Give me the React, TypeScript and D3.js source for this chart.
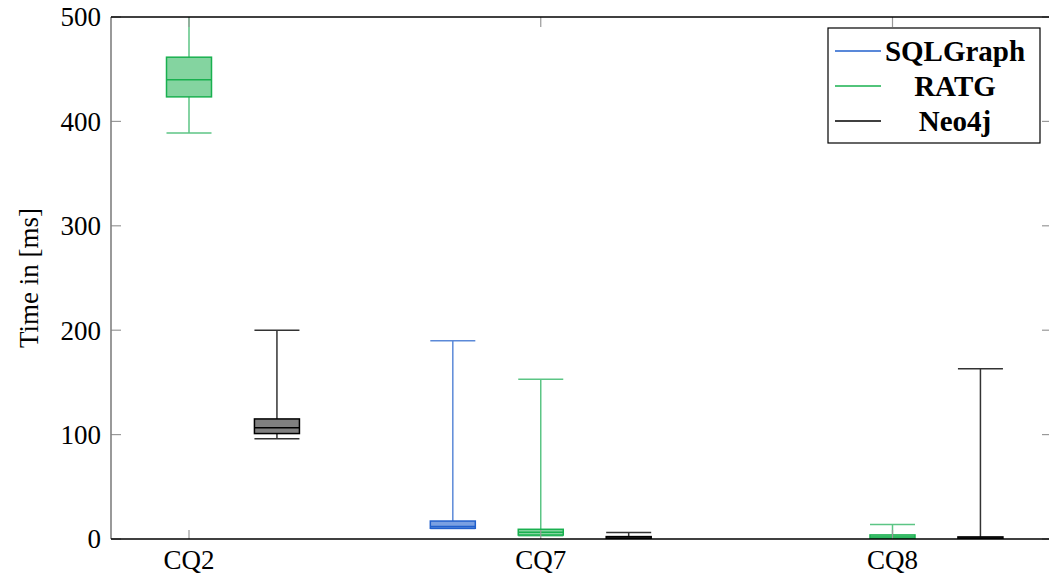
import React from "react";
import * as d3 from "d3";

// Query categories and systems
const categories = ["CQ2", "CQ7", "CQ8"];
const systems = ["SQLGraph", "RATG", "Neo4j"];

// Box statistics per system, one entry per category (null = no measurement)
type Stat = { min: number; q1: number; median: number; q3: number; max: number } | null;
const sqlGraphStats: Stat[] = [
  null,
  { min: 10, q1: 10.3, median: 12, q3: 17.2, max: 190 },
  null,
];
const ratgStats: Stat[] = [
  { min: 389, q1: 423.5, median: 440, q3: 461.5, max: 530 },
  { min: 3, q1: 3.8, median: 6.4, q3: 9.3, max: 153 },
  { min: 0.5, q1: 0.4, median: 2, q3: 3.9, max: 14 },
];
const neo4jStats: Stat[] = [
  { min: 96, q1: 101, median: 106.6, q3: 115, max: 200 },
  { min: 0.3, q1: 0.2, median: 1, q3: 2.3, max: 6.3 },
  { min: 0.2, q1: 0.2, median: 1, q3: 2, max: 163 },
];
const yTicks = [0, 100, 200, 300, 400, 500];

const palette = [
  { stroke: "#2260cc", fill: "#7aa0e2", whisker: "#5b89d8" },
  { stroke: "#19b04f", fill: "#84d4a0", whisker: "#5cc585" },
  { stroke: "#000000", fill: "#808080", whisker: "#333333" },
];

const W = 1049;
const H = 575;
const left = 111;
const right = 1052;
const top = 17;
const bottom = 539;

export default function App() {
  const y = d3.scaleLinear().domain([0, 500]).range([bottom, top]);
  // category index -> pixel centre
  const x = d3.scaleLinear().domain([0, 2]).range([189, 892.5]);
  const offsets = [-0.25, 0, 0.25];
  const boxW = 45;
  const allStats = [sqlGraphStats, ratgStats, neo4jStats];
  const serif = "'Liberation Serif', 'DejaVu Serif', serif";

  return (
    <svg
      width={W}
      height={H}
      style={{ position: "absolute", left: 0, top: 0, background: "#fff" }}
      fontFamily={serif}
    >
      <defs>
        <clipPath id="plotClip">
          <rect x={left} y={top} width={right - left} height={bottom - top} />
        </clipPath>
      </defs>

      {/* boxes */}
      <g clipPath="url(#plotClip)">
        {allStats.map((stats, si) =>
          stats.map((s, ci) => {
            if (!s) return null;
            const cx = x(ci + offsets[si]);
            const c = palette[si];
            const x0 = cx - boxW / 2;
            const x1 = cx + boxW / 2;
            return (
              <g key={`${si}-${ci}`}>
                <line x1={cx} x2={cx} y1={y(s.q3)} y2={y(s.max)} stroke={c.whisker} strokeWidth={1.5} />
                <line x1={cx} x2={cx} y1={y(s.q1)} y2={y(s.min)} stroke={c.whisker} strokeWidth={1.5} />
                <line x1={x0} x2={x1} y1={y(s.max)} y2={y(s.max)} stroke={c.whisker} strokeWidth={1.5} />
                <line x1={x0} x2={x1} y1={y(s.min)} y2={y(s.min)} stroke={c.whisker} strokeWidth={1.5} />
                <rect
                  x={x0}
                  y={y(s.q3)}
                  width={boxW}
                  height={Math.max(0, y(s.q1) - y(s.q3))}
                  fill={c.fill}
                  stroke={c.stroke}
                  strokeWidth={1.5}
                />
                <line x1={x0} x2={x1} y1={y(s.median)} y2={y(s.median)} stroke={c.stroke} strokeWidth={1.5} />
              </g>
            );
          })
        )}
      </g>

      {/* y ticks, both sides */}
      {yTicks.map((t) => (
        <g key={t}>
          <line x1={left} x2={left + 10} y1={y(t)} y2={y(t)} stroke="#999" strokeWidth={1.2} />
          <line x1={right - 10} x2={right} y1={y(t)} y2={y(t)} stroke="#999" strokeWidth={1.2} />
          <text x={101} y={y(t)} dy="0.35em" textAnchor="end" fontSize={27} fill="#000">
            {t}
          </text>
        </g>
      ))}

      {/* x ticks, top and bottom */}
      {categories.map((cat, ci) => (
        <g key={cat}>
          <line x1={x(ci)} x2={x(ci)} y1={bottom} y2={bottom - 9} stroke="#999" strokeWidth={1.2} />
          <line x1={x(ci)} x2={x(ci)} y1={top} y2={top + 10} stroke="#999" strokeWidth={1.2} />
          <text x={x(ci)} y={569} textAnchor="middle" fontSize={27} fill="#000">
            {cat}
          </text>
        </g>
      ))}

      {/* frame */}
      <line x1={left} x2={left} y1={top} y2={bottom} stroke="#808080" strokeWidth={1.6} />
      <line x1={left} x2={right} y1={top} y2={top} stroke="#000" strokeWidth={1.4} />
      <line x1={left} x2={right} y1={bottom} y2={bottom} stroke="#000" strokeWidth={1.4} />
      <line x1={right} x2={right} y1={top} y2={bottom} stroke="#000" strokeWidth={1.4} />

      {/* y label */}
      <text
        transform={`translate(38, ${(top + bottom) / 2}) rotate(-90)`}
        textAnchor="middle"
        fontSize={27}
        fill="#000"
      >
        Time in [ms]
      </text>

      {/* legend */}
      <g>
        <rect x={828} y={28} width={212} height={115} fill="#fff" stroke="#000" strokeWidth={1.2} />
        {systems.map((name, i) => {
          const ly = 51 + i * 35;
          return (
            <g key={name}>
              <line x1={835} x2={881} y1={ly} y2={ly} stroke={palette[i].stroke} strokeWidth={1.3} />
              <text x={955} y={ly} dy="0.33em" textAnchor="middle" fontSize={29} fontWeight="bold" fill="#000">
                {name}
              </text>
            </g>
          );
        })}
      </g>
    </svg>
  );
}
